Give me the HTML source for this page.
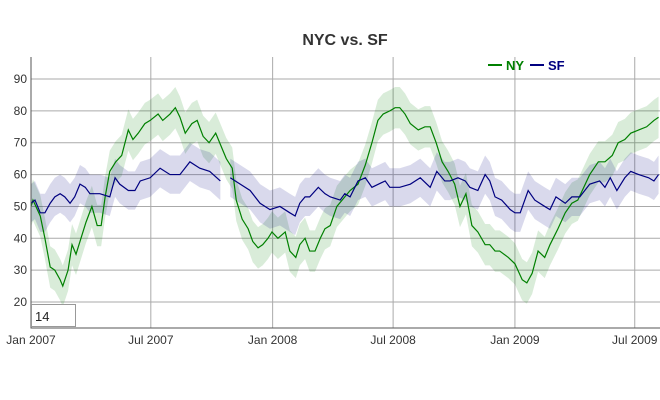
<!DOCTYPE html>
<html><head><meta charset="utf-8"><style>
body{margin:0;background:#fff;}
#wrap{position:relative;width:660px;height:400px;font-family:"Liberation Sans",Arial,sans-serif;}
svg{position:absolute;left:0;top:0;}
#roll{position:absolute;left:31px;top:304px;width:45px;height:23px;border:1px solid #999;box-sizing:border-box;background:#fff;font:13px "Liberation Sans",sans-serif;padding:4px 3px;color:#222;}
</style></head><body>
<div id="wrap">
<svg id="chart" width="660" height="400"></svg>
<div id="roll">14</div>
</div>
<script>
const xTickLabels=["Jan 2007","Jul 2007","Jan 2008","Jul 2008","Jan 2009","Jul 2009"];
const xTickDays=[0,181,365,547,731,912];
const yTicks=[20,30,40,50,60,70,80,90];
const nyDays=[0,3,14,21,29,36,44,48,56,62,68,74,83,92,100,106,112,119,128,137,147,154,162,172,180,192,199,210,218,225,233,243,251,260,269,279,289,295,304,310,319,328,335,343,350,358,364,373,384,391,400,406,414,421,429,437,444,452,462,474,482,494,505,515,524,532,542,550,557,565,573,585,595,603,612,621,630,640,648,657,666,675,686,693,701,708,721,731,742,749,757,766,776,784,796,807,817,826,835,844,857,867,878,887,897,906,918,930,941,948];
const nyVals=[50,52,47,40,31,30,27,25,30,38,35,39,45,50,44,44,53,61,64,66,74,71,73,76,77,79,77,79,81,78,73,76,77,72,70,73,68,65,62,52,46,43,39,37,38,40,42,40,42,36,34,38,40,36,36,40,43,44,50,53,55,57,63,70,77,79,80,81,81,79,76,74,75,75,70,64,61,57,50,54,44,42,38,38,36,36,34,32,27,26,29,36,34,38,43,48,51,52,56,60,64,64,66,70,71,73,74,75,77,78];
const sfDays=[0,6,14,21,29,36,44,51,59,66,74,82,89,104,119,127,134,147,157,165,180,195,210,225,240,255,270,286,293,301,316,331,346,361,376,391,399,406,414,421,434,444,452,467,474,482,494,505,515,535,542,557,573,588,603,613,625,633,645,656,663,675,686,693,701,711,724,731,739,751,761,776,784,793,807,817,829,844,859,867,875,885,897,906,918,933,941,948];
const sfVals=[51,52,48,48,51,53,54,53,51,53,57,56,54,54,53,59,57,55,55,58,59,62,60,60,64,62,61,58,null,59,57,55,51,49,50,48,47,51,53,53,56,54,53,52,54,53,58,59,56,58,56,56,57,59,56,61,58,58,59,58,56,55,60,58,53,52,49,48,48,55,52,50,49,53,51,53,53,57,58,56,59,55,59,61,60,59,58,60];
const nyErr=6.5, sfErr=6;
const NS="http://www.w3.org/2000/svg";
const svg=document.getElementById('chart');
const L=31,R=660,T=57,B=328;
const xs=d=>L+d*0.662;
const ys=v=>79+(90-v)*3.186;
function mk(tag,attrs,parent){const e=document.createElementNS(NS,tag);for(const k in attrs)e.setAttribute(k,attrs[k]);(parent||svg).appendChild(e);return e;}
// grid
yTicks.forEach(v=>{
  const g=mk('line',{x1:L,x2:R,y1:ys(v),y2:ys(v),stroke:'#aaa','stroke-width':1});
  
  
  const t=mk('text',{x:L-4,y:ys(v)+4,'text-anchor':'end','font-size':12,fill:'#333'});
  
  
  t.textContent=v;
});
xTickDays.forEach((d,i)=>{
  if(i>0){const g=mk('line',{x1:xs(d),x2:xs(d),y1:T,y2:B,stroke:'#aaa','stroke-width':1});
  
  }
  const t=mk('text',{x:Math.max(xs(d),30),y:B+16,'text-anchor':'middle','font-size':12,fill:'#333'});
  
  
  t.textContent=xTickLabels[i];
});
function segs(days,vals){const out=[];let cur=[];days.forEach((d,i)=>{if(vals[i]==null){if(cur.length)out.push(cur);cur=[];}else cur.push([d,vals[i]]);});if(cur.length)out.push(cur);return out;}
function draw(days,vals,err,fill,stroke,name){
  segs(days,vals).forEach(s=>{
    let p=s.map(q=>xs(q[0])+','+ys(q[1]+err)).join(' ')+' '+s.slice().reverse().map(q=>xs(q[0])+','+ys(q[1]-err)).join(' ');
    const b=mk('polygon',{points:p,fill:fill,stroke:'none'});
    
    
  });
  return ()=>segs(days,vals).forEach(s=>{
    const l=mk('polyline',{points:s.map(q=>xs(q[0])+','+ys(q[1])).join(' '),fill:'none',stroke:stroke,'stroke-width':1.2});
    
    
  });
}
const d1=draw(nyDays,nyVals,nyErr,'rgba(0,128,0,0.15)','#008000','ny');
const d2=draw(sfDays,sfVals,sfErr,'rgba(0,0,128,0.15)','#000080','sf');
d1();d2();
const ax=mk('polyline',{points:`${L},${T} ${L},${B} ${R},${B}`,fill:'none',stroke:'#555','stroke-width':1});


const title=mk('text',{x:345,y:45,'text-anchor':'middle','font-size':16,'font-weight':'bold',fill:'#333'});


title.textContent='NYC vs. SF';
const lg=mk('g',{});


mk('line',{x1:488,x2:502,y1:65,y2:65,stroke:'#008000','stroke-width':2},lg);
const t1=mk('text',{x:506,y:70,'font-size':13,'font-weight':'bold',fill:'#008000'},lg);


t1.textContent='NY';
mk('line',{x1:530,x2:544,y1:65,y2:65,stroke:'#000080','stroke-width':2},lg);
const t2=mk('text',{x:548,y:70,'font-size':13,'font-weight':'bold',fill:'#000080'},lg);


t2.textContent='SF';
</script>
</body></html>
